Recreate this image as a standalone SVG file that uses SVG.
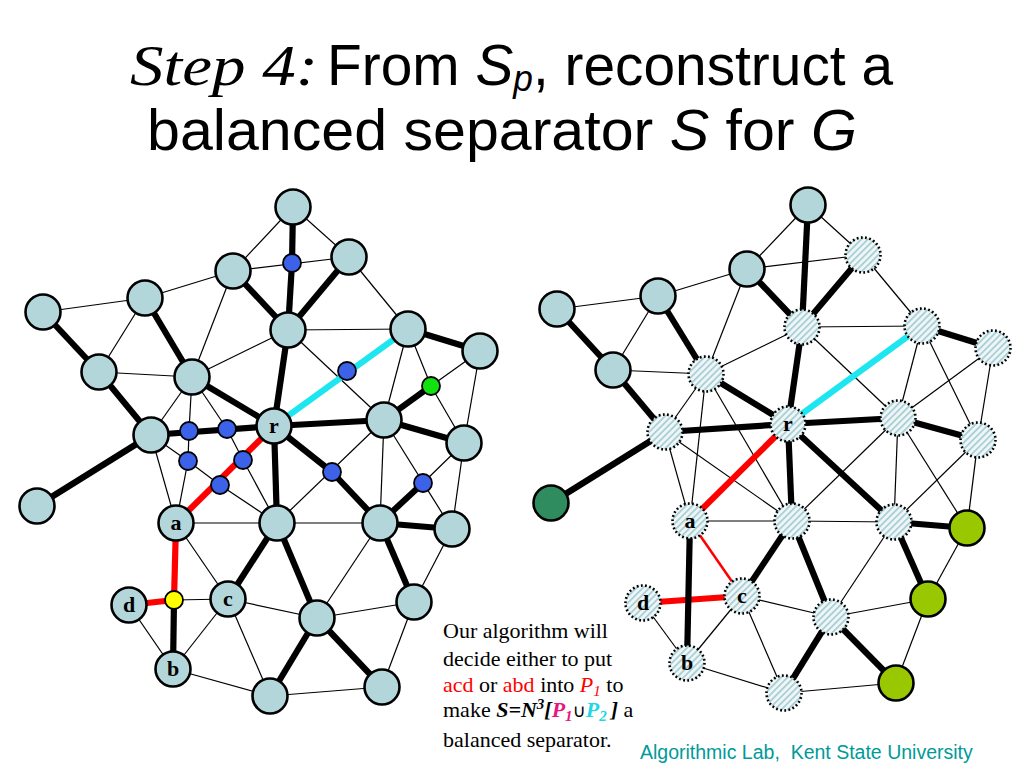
<svg xmlns="http://www.w3.org/2000/svg" width="1024" height="768" viewBox="0 0 1024 768">
<style>
.t{stroke:#000;stroke-width:1.2}
.k{stroke:#000;stroke-width:6.2}
.rd{stroke:#f00;stroke-width:6.2}
.rt{stroke:#f00;stroke-width:2.5}
.cy{stroke:#1ee6f0;stroke-width:6.2}
.n{fill:#b3d6da;stroke:#000;stroke-width:2.6}
.h{fill:url(#hatch);stroke:#000;stroke-width:2.6;stroke-dasharray:1.8 2.4}
.s{fill:#3c62ea;stroke:#000;stroke-width:1.8}
.dg{fill:#2f8c5e;stroke:#000;stroke-width:2.6}
.lg{fill:#99c800;stroke:#000;stroke-width:2.6}
.lb{font-family:"Liberation Serif",serif;font-weight:bold;font-size:22px;text-anchor:middle}
.bt{font-family:"Liberation Serif",serif;font-size:22px}
</style>
<defs>
<pattern id="hatch" width="4.6" height="4.6" patternUnits="userSpaceOnUse" patternTransform="rotate(45)">
<rect width="4.6" height="4.6" fill="#eef6f7"/><rect width="1.7" height="4.6" fill="#a7cdd3"/>
</pattern>
</defs>
<rect width="1024" height="768" fill="#fff"/>
<g id="title">
<text x="130" y="85" font-family="Liberation Serif,serif" font-style="italic" font-size="58" textLength="188" lengthAdjust="spacingAndGlyphs">Step 4:</text>
<text x="327" y="85" font-family="Liberation Sans,Arial,sans-serif" font-size="58" textLength="566" lengthAdjust="spacingAndGlyphs">From <tspan font-style="italic">S</tspan><tspan font-style="italic" font-size="36" dy="6">p</tspan><tspan dy="-6">, reconstruct a</tspan></text>
<text x="147" y="150" font-family="Liberation Sans,Arial,sans-serif" font-size="58" textLength="710" lengthAdjust="spacingAndGlyphs">balanced separator <tspan font-style="italic">S</tspan> for <tspan font-style="italic">G</tspan></text>
</g>
<g id="connectors">
<!-- left graph thin -->
<g class="t">
<line x1="43" y1="312" x2="145" y2="298"/>
<line x1="145" y1="298" x2="99" y2="372"/>
<line x1="145" y1="298" x2="233" y2="271"/>
<line x1="233" y1="271" x2="192" y2="377"/>
<line x1="99" y1="372" x2="192" y2="377"/>
<line x1="192" y1="377" x2="288" y2="330"/>
<line x1="233" y1="271" x2="293" y2="207"/>
<line x1="293" y1="207" x2="349" y2="257"/>
<line x1="233" y1="271" x2="349" y2="257"/>
<line x1="349" y1="257" x2="408" y2="329"/>
<line x1="288" y1="330" x2="408" y2="329"/>
<line x1="288" y1="330" x2="384" y2="420"/>
<line x1="408" y1="329" x2="384" y2="420"/>
<line x1="408" y1="329" x2="431" y2="386"/>
<line x1="431" y1="386" x2="480" y2="351"/>
<line x1="431" y1="386" x2="464" y2="443"/>
<line x1="480" y1="351" x2="464" y2="443"/>
<line x1="192" y1="377" x2="151" y2="435"/>
<line x1="192" y1="377" x2="189" y2="431"/>
<line x1="192" y1="377" x2="227" y2="429"/>
<line x1="189" y1="431" x2="188" y2="461"/>
<line x1="188" y1="461" x2="176" y2="523"/>
<line x1="151" y1="435" x2="188" y2="461"/>
<line x1="188" y1="461" x2="220" y2="485"/>
<line x1="220" y1="485" x2="277" y2="523"/>
<line x1="227" y1="429" x2="243" y2="460"/>
<line x1="243" y1="460" x2="277" y2="523"/>
<line x1="151" y1="435" x2="176" y2="523"/>
<line x1="176" y1="523" x2="277" y2="523"/>
<line x1="176" y1="523" x2="228" y2="599"/>
<line x1="174" y1="600" x2="228" y2="599"/>
<line x1="129" y1="605" x2="173" y2="669"/>
<line x1="228" y1="599" x2="173" y2="669"/>
<line x1="173" y1="669" x2="270" y2="696"/>
<line x1="228" y1="599" x2="270" y2="696"/>
<line x1="228" y1="599" x2="317" y2="618"/>
<line x1="277" y1="523" x2="380" y2="523"/>
<line x1="277" y1="523" x2="384" y2="420"/>
<line x1="384" y1="420" x2="380" y2="523"/>
<line x1="384" y1="420" x2="452" y2="529"/>
<line x1="423" y1="483" x2="464" y2="443"/>
<line x1="464" y1="443" x2="452" y2="529"/>
<line x1="380" y1="523" x2="317" y2="618"/>
<line x1="452" y1="529" x2="414" y2="602"/>
<line x1="317" y1="618" x2="414" y2="602"/>
<line x1="414" y1="602" x2="382" y2="687"/>
<line x1="270" y1="696" x2="382" y2="687"/>
</g>
<g class="k">
<line x1="43" y1="312" x2="99" y2="372"/>
<line x1="99" y1="372" x2="151" y2="435"/>
<line x1="151" y1="435" x2="37" y2="506"/>
<line x1="145" y1="298" x2="192" y2="377"/>
<line x1="192" y1="377" x2="274" y2="426"/>
<line x1="233" y1="271" x2="288" y2="330"/>
<line x1="293" y1="207" x2="292" y2="263"/>
<line x1="292" y1="263" x2="288" y2="330"/>
<line x1="349" y1="257" x2="288" y2="330"/>
<line x1="288" y1="330" x2="274" y2="426"/>
<line x1="151" y1="435" x2="274" y2="426"/>
<line x1="274" y1="426" x2="384" y2="420"/>
<line x1="384" y1="420" x2="431" y2="386"/>
<line x1="384" y1="420" x2="464" y2="443"/>
<line x1="408" y1="329" x2="480" y2="351"/>
<line x1="274" y1="426" x2="277" y2="523"/>
<line x1="274" y1="426" x2="332" y2="472"/>
<line x1="332" y1="472" x2="380" y2="523"/>
<line x1="380" y1="523" x2="423" y2="483"/>
<line x1="380" y1="523" x2="452" y2="529"/>
<line x1="380" y1="523" x2="414" y2="602"/>
<line x1="277" y1="523" x2="228" y2="599"/>
<line x1="277" y1="523" x2="317" y2="618"/>
<line x1="317" y1="618" x2="270" y2="696"/>
<line x1="317" y1="618" x2="382" y2="687"/>
<line x1="174" y1="600" x2="173" y2="669"/>
</g>
<line class="cy" x1="274" y1="426" x2="408" y2="329"/>
<g class="rd">
<line x1="274" y1="426" x2="176" y2="523"/>
<line x1="176" y1="523" x2="174" y2="600"/>
<line x1="129" y1="605" x2="174" y2="600"/>
</g>
<!-- right graph thin -->
<g class="t">
<line x1="557" y1="309" x2="658" y2="296"/>
<line x1="658" y1="296" x2="613" y2="370"/>
<line x1="658" y1="296" x2="747" y2="269"/>
<line x1="747" y1="269" x2="706" y2="374"/>
<line x1="613" y1="370" x2="706" y2="374"/>
<line x1="706" y1="374" x2="802" y2="327"/>
<line x1="747" y1="269" x2="808" y2="205"/>
<line x1="808" y1="205" x2="863" y2="255"/>
<line x1="747" y1="269" x2="863" y2="255"/>
<line x1="863" y1="255" x2="922" y2="326"/>
<line x1="802" y1="327" x2="922" y2="326"/>
<line x1="802" y1="327" x2="898" y2="418"/>
<line x1="922" y1="326" x2="898" y2="418"/>
<line x1="922" y1="326" x2="978" y2="440"/>
<line x1="993" y1="348" x2="898" y2="418"/>
<line x1="993" y1="348" x2="978" y2="440"/>
<line x1="706" y1="374" x2="665" y2="432"/>
<line x1="706" y1="374" x2="690" y2="521"/>
<line x1="706" y1="374" x2="792" y2="521"/>
<line x1="665" y1="432" x2="690" y2="521"/>
<line x1="665" y1="432" x2="792" y2="521"/>
<line x1="690" y1="521" x2="792" y2="521"/>
<line x1="898" y1="418" x2="792" y2="521"/>
<line x1="898" y1="418" x2="894" y2="522"/>
<line x1="898" y1="418" x2="967" y2="528"/>
<line x1="978" y1="440" x2="967" y2="528"/>
<line x1="978" y1="440" x2="894" y2="522"/>
<line x1="792" y1="521" x2="894" y2="522"/>
<line x1="894" y1="522" x2="831" y2="617"/>
<line x1="967" y1="528" x2="928" y2="599"/>
<line x1="742" y1="596" x2="831" y2="617"/>
<line x1="742" y1="596" x2="784" y2="693"/>
<line x1="831" y1="617" x2="928" y2="599"/>
<line x1="928" y1="599" x2="896" y2="683"/>
<line x1="784" y1="693" x2="896" y2="683"/>
<line x1="687" y1="663" x2="784" y2="693"/>
<line x1="643" y1="603" x2="687" y2="663"/>
<line x1="742" y1="596" x2="687" y2="663"/>
</g>
<g class="rd">
<line x1="788" y1="424" x2="690" y2="521"/>
<line x1="643" y1="603" x2="742" y2="596"/>
</g>
<line class="rt" x1="690" y1="521" x2="742" y2="596"/>
<g class="k">
<line x1="557" y1="309" x2="613" y2="370"/>
<line x1="613" y1="370" x2="665" y2="432"/>
<line x1="665" y1="432" x2="551" y2="503"/>
<line x1="658" y1="296" x2="706" y2="374"/>
<line x1="706" y1="374" x2="788" y2="424"/>
<line x1="747" y1="269" x2="802" y2="327"/>
<line x1="808" y1="205" x2="802" y2="327"/>
<line x1="863" y1="255" x2="802" y2="327"/>
<line x1="802" y1="327" x2="788" y2="424"/>
<line x1="665" y1="432" x2="788" y2="424"/>
<line x1="788" y1="424" x2="898" y2="418"/>
<line x1="898" y1="418" x2="978" y2="440"/>
<line x1="922" y1="326" x2="993" y2="348"/>
<line x1="788" y1="424" x2="792" y2="521"/>
<line x1="788" y1="424" x2="894" y2="522"/>
<line x1="894" y1="522" x2="967" y2="528"/>
<line x1="894" y1="522" x2="928" y2="599"/>
<line x1="792" y1="521" x2="742" y2="596"/>
<line x1="792" y1="521" x2="831" y2="617"/>
<line x1="831" y1="617" x2="784" y2="693"/>
<line x1="831" y1="617" x2="896" y2="683"/>
<line x1="690" y1="521" x2="687" y2="663"/>
</g>
<line class="cy" x1="788" y1="424" x2="922" y2="326"/>
</g>
<!-- left graph nodes -->
<g id="L1"><circle class="n" cx="43" cy="312" r="17.5"/></g>
<g id="L2"><circle class="n" cx="145" cy="298" r="17.5"/></g>
<g id="L3"><circle class="n" cx="233" cy="271" r="17.5"/></g>
<g id="L4"><circle class="n" cx="99" cy="372" r="17.5"/></g>
<g id="L5"><circle class="n" cx="192" cy="377" r="17.5"/></g>
<g id="L6"><circle class="n" cx="151" cy="435" r="17.5"/></g>
<g id="L7"><circle class="n" cx="293" cy="207" r="17.5"/></g>
<g id="L8"><circle class="n" cx="349" cy="257" r="17.5"/></g>
<g id="L9"><circle class="n" cx="288" cy="330" r="17.5"/></g>
<g id="L10"><circle class="n" cx="408" cy="329" r="17.5"/></g>
<g id="L11"><circle class="n" cx="480" cy="351" r="17.5"/></g>
<g id="L12"><circle class="n" cx="384" cy="420" r="17.5"/></g>
<g id="L13"><circle class="n" cx="464" cy="443" r="17.5"/></g>
<g id="L14"><circle class="n" cx="37" cy="506" r="17.5"/></g>
<g id="L15"><circle class="n" cx="277" cy="523" r="17.5"/></g>
<g id="L16"><circle class="n" cx="380" cy="523" r="17.5"/></g>
<g id="L17"><circle class="n" cx="452" cy="529" r="17.5"/></g>
<g id="L18"><circle class="n" cx="317" cy="618" r="17.5"/></g>
<g id="L19"><circle class="n" cx="414" cy="602" r="17.5"/></g>
<g id="L20"><circle class="n" cx="270" cy="696" r="17.5"/></g>
<g id="L21"><circle class="n" cx="382" cy="687" r="17.5"/></g>
<g id="Lr"><circle class="n" cx="274" cy="426" r="17.5"/><text class="lb" x="274" y="433">r</text></g>
<g id="La"><circle class="n" cx="176" cy="523" r="17.5"/><text class="lb" x="176" y="530">a</text></g>
<g id="Lc"><circle class="n" cx="228" cy="599" r="17.5"/><text class="lb" x="228" y="606">c</text></g>
<g id="Ld"><circle class="n" cx="129" cy="605" r="17.5"/><text class="lb" x="129" y="612">d</text></g>
<g id="Lb"><circle class="n" cx="173" cy="669" r="17.5"/><text class="lb" x="173" y="676">b</text></g>
<g id="LB1"><circle class="s" cx="189" cy="431" r="9"/></g>
<g id="LB2"><circle class="s" cx="227" cy="429" r="9"/></g>
<g id="LB3"><circle class="s" cx="292" cy="263" r="9"/></g>
<g id="LB4"><circle class="s" cx="347" cy="371" r="9"/></g>
<g id="LB5"><circle class="s" cx="188" cy="461" r="9"/></g>
<g id="LB6"><circle class="s" cx="220" cy="485" r="9"/></g>
<g id="LB7"><circle class="s" cx="243" cy="460" r="9"/></g>
<g id="LB8"><circle class="s" cx="332" cy="472" r="9"/></g>
<g id="LB9"><circle class="s" cx="423" cy="483" r="9"/></g>
<g id="LG"><circle cx="431" cy="386" r="9" fill="#11e011" stroke="#000" stroke-width="1.8"/></g>
<g id="LY"><circle cx="174" cy="600" r="9" fill="#ffff00" stroke="#000" stroke-width="1.8"/></g>
<!-- right graph nodes -->
<g id="R1"><circle class="n" cx="557" cy="309" r="17.5"/></g>
<g id="R2"><circle class="n" cx="658" cy="296" r="17.5"/></g>
<g id="R3"><circle class="n" cx="747" cy="269" r="17.5"/></g>
<g id="R4"><circle class="n" cx="613" cy="370" r="17.5"/></g>
<g id="R5"><circle class="h" cx="706" cy="374" r="17.5"/></g>
<g id="R6"><circle class="h" cx="665" cy="432" r="17.5"/></g>
<g id="R7"><circle class="n" cx="808" cy="205" r="17.5"/></g>
<g id="R8"><circle class="h" cx="863" cy="255" r="17.5"/></g>
<g id="R9"><circle class="h" cx="802" cy="327" r="17.5"/></g>
<g id="R10"><circle class="h" cx="922" cy="326" r="17.5"/></g>
<g id="R11"><circle class="h" cx="993" cy="348" r="17.5"/></g>
<g id="R12"><circle class="h" cx="898" cy="418" r="17.5"/></g>
<g id="R13"><circle class="h" cx="978" cy="440" r="17.5"/></g>
<g id="R14"><circle class="dg" cx="551" cy="503" r="17.5"/></g>
<g id="R15"><circle class="h" cx="792" cy="521" r="17.5"/></g>
<g id="R16"><circle class="h" cx="894" cy="522" r="17.5"/></g>
<g id="R17"><circle class="lg" cx="967" cy="528" r="17.5"/></g>
<g id="R18"><circle class="h" cx="831" cy="617" r="17.5"/></g>
<g id="R19"><circle class="lg" cx="928" cy="599" r="17.5"/></g>
<g id="R20"><circle class="h" cx="784" cy="693" r="17.5"/></g>
<g id="R21"><circle class="lg" cx="896" cy="683" r="17.5"/></g>
<g id="Rr"><circle class="h" cx="788" cy="424" r="17.5"/><text class="lb" x="788" y="431">r</text></g>
<g id="Ra"><circle class="h" cx="690" cy="521" r="17.5"/><text class="lb" x="690" y="528">a</text></g>
<g id="Rc"><circle class="h" cx="742" cy="596" r="17.5"/><text class="lb" x="742" y="603">c</text></g>
<g id="Rd"><circle class="h" cx="643" cy="603" r="17.5"/><text class="lb" x="643" y="610">d</text></g>
<g id="Rb"><circle class="h" cx="687" cy="663" r="17.5"/><text class="lb" x="687" y="670">b</text></g>
<g id="caption">
<text class="bt" x="443" y="638">Our algorithm will</text>
<text class="bt" x="443" y="666">decide either to put</text>
<text class="bt" x="443" y="692"><tspan fill="#f00">acd</tspan> or <tspan fill="#f00">abd</tspan> into <tspan fill="#f00" font-style="italic">P</tspan><tspan fill="#f00" font-style="italic" font-size="15" dy="4">1</tspan><tspan dy="-4"> to</tspan></text>
<text class="bt" x="443" y="717">make <tspan font-weight="bold" font-style="italic">S=N</tspan><tspan font-weight="bold" font-style="italic" font-size="15" dy="-8">3</tspan><tspan font-weight="bold" font-style="italic" dy="8">[</tspan><tspan font-weight="bold" font-style="italic" fill="#e8157d">P</tspan><tspan font-weight="bold" font-style="italic" fill="#e8157d" font-size="15" dy="4">1</tspan><tspan font-family="DejaVu Sans,sans-serif" font-size="18" dy="-4">∪</tspan><tspan font-weight="bold" font-style="italic" fill="#22d6e6">P</tspan><tspan font-weight="bold" font-style="italic" fill="#22d6e6" font-size="15" dy="4">2</tspan><tspan font-weight="bold" font-style="italic" dy="-4" dx="4">]</tspan> a</text>
<text class="bt" x="443" y="747">balanced separator.</text>
</g>
<g id="footer">
<text x="640" y="759" font-family="Liberation Sans,Arial,sans-serif" font-size="19.5" fill="#009a9a">Algorithmic Lab,&#160; Kent State University</text>
</g>
</svg>
